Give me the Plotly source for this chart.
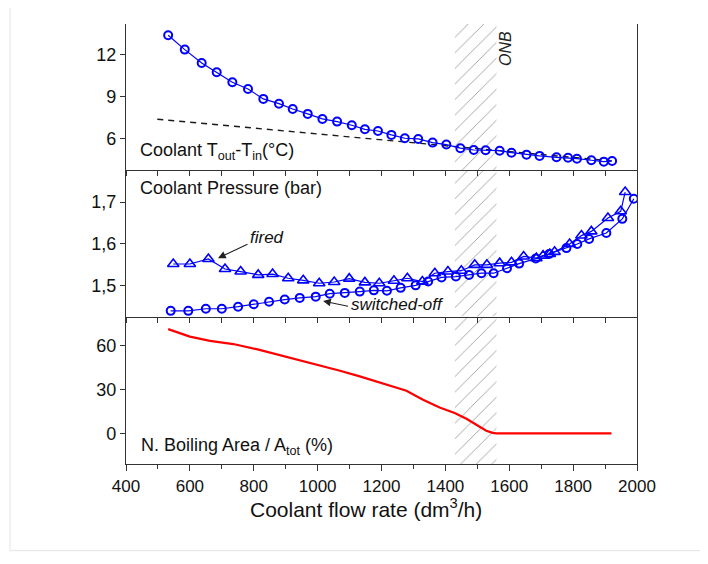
import plotly.graph_objects as go

# ---------------- data ----------------
# Top panel: coolant temperature rise
temp_flow = [532, 584, 637, 684, 733, 782, 830, 879, 922, 969, 1015, 1061, 1107, 1148, 1189, 1231,
             1273, 1315, 1360, 1403, 1447, 1489, 1526, 1570, 1607, 1654, 1695, 1748, 1784, 1812,
             1857, 1896, 1922]
temp_rise = [13.36, 12.33, 11.38, 10.71, 10.0, 9.52, 8.81, 8.47, 8.09, 7.74, 7.38, 7.19, 6.93, 6.64,
             6.52, 6.24, 6.0, 5.95, 5.69, 5.55, 5.29, 5.16, 5.14, 5.11, 4.97, 4.83, 4.74, 4.64, 4.61,
             4.54, 4.43, 4.33, 4.38]
ref_flow = [498, 1920]
ref_rise = [7.36, 4.38]

# Middle panel: coolant pressure
fired_flow = [548, 600, 658, 710, 759, 814, 859, 908, 955, 1005, 1052, 1099, 1148, 1193, 1239, 1281,
              1328, 1367, 1408, 1450, 1492, 1530, 1570, 1607, 1645, 1685, 1706, 1727, 1742, 1789,
              1826, 1857, 1909, 1949, 1963]
fired_p = [1.552, 1.552, 1.564, 1.540, 1.534, 1.526, 1.528, 1.518, 1.513, 1.506, 1.509, 1.517, 1.508,
           1.506, 1.512, 1.518, 1.510, 1.530, 1.534, 1.536, 1.550, 1.550, 1.554, 1.556, 1.570, 1.566,
           1.572, 1.576, 1.581, 1.600, 1.620, 1.630, 1.662, 1.678, 1.724]
off_flow = [540, 595, 650, 700, 751, 800, 848, 897, 944, 994, 1038, 1085, 1132, 1176, 1217, 1260,
            1307, 1346, 1388, 1433, 1474, 1513, 1551, 1593, 1631, 1683, 1725, 1779, 1813, 1850,
            1904, 1954, 1990]
off_p = [1.440, 1.440, 1.445, 1.445, 1.450, 1.456, 1.462, 1.467, 1.471, 1.474, 1.481, 1.483, 1.486,
         1.489, 1.488, 1.495, 1.501, 1.510, 1.520, 1.522, 1.526, 1.530, 1.530, 1.542, 1.553, 1.565,
         1.576, 1.590, 1.600, 1.612, 1.626, 1.660, 1.708]

# Bottom panel: nucleate boiling area fraction
boil_flow = [532, 600, 663, 736, 809, 871, 944, 1007, 1070, 1132, 1195, 1236, 1278, 1330, 1382,
             1429, 1466, 1497, 1528, 1548, 1560, 1920]
boil_pct = [71.4, 66.3, 63.4, 61.2, 57.7, 54.3, 50.0, 46.6, 43.0, 39.1, 35.0, 32.3, 29.3, 23.2,
            17.9, 14.1, 10.2, 6.1, 2.0, 0.6, 0.2, 0.2]

# ONB band
onb_band = [1430, 1560]

x_ticks = [400, 600, 800, 1000, 1200, 1400, 1600, 1800, 2000]
y3_range = [3.74, 14.16]
y2_range = [1.4265, 1.777]
y1_range = [-20.7, 80]

# ---------------- figure ----------------
BLUE = "#0000FF"
AX = "#333333"
FONT = "Liberation Sans, Arial, sans-serif"

fig = go.Figure()

def band(xa, ya, yr):
    fig.add_trace(go.Scatter(
        x=[onb_band[0], onb_band[1], onb_band[1], onb_band[0], onb_band[0]],
        y=[yr[0], yr[0], yr[1], yr[1], yr[0]],
        xaxis=xa, yaxis=ya, mode="lines", line=dict(width=0),
        fill="toself", fillcolor="rgba(255,255,255,0)",
        fillpattern=dict(shape="/", fgcolor="#3a3a3a", bgcolor="rgba(255,255,255,0)",
                         size=11, solidity=0.08),
        hoverinfo="skip", showlegend=False))

band("x3", "y3", y3_range)
band("x2", "y2", y2_range)
band("x", "y", y1_range)

# top
fig.add_trace(go.Scatter(x=ref_flow, y=ref_rise, xaxis="x3", yaxis="y3", mode="lines",
                         line=dict(color="#1a1a1a", width=1.4, dash="6px,5px"), showlegend=False))
fig.add_trace(go.Scatter(x=temp_flow, y=temp_rise, xaxis="x3", yaxis="y3", mode="lines+markers",
                         line=dict(color=BLUE, width=1.2),
                         marker=dict(symbol="circle-open", size=8, color=BLUE, line=dict(width=2, color=BLUE)),
                         showlegend=False))
# middle
fig.add_trace(go.Scatter(x=fired_flow, y=fired_p, xaxis="x2", yaxis="y2", mode="lines+markers",
                         line=dict(color=BLUE, width=1.2),
                         marker=dict(symbol="triangle-up-open", size=10, color=BLUE, line=dict(width=1.6, color=BLUE)),
                         showlegend=False))
fig.add_trace(go.Scatter(x=off_flow, y=off_p, xaxis="x2", yaxis="y2", mode="lines+markers",
                         line=dict(color=BLUE, width=1.2),
                         marker=dict(symbol="circle-open", size=8, color=BLUE, line=dict(width=2, color=BLUE)),
                         showlegend=False))
# bottom
fig.add_trace(go.Scatter(x=boil_flow, y=boil_pct, xaxis="x", yaxis="y", mode="lines",
                         line=dict(color="#FF0000", width=2.2),
                         showlegend=False))

d_bot = [0.0, 0.3352]
d_mid = [0.3352, 0.6684]
d_top = [0.6684, 1.0]

common_x = dict(range=[400, 2000], showline=True, linecolor=AX, linewidth=1.4, mirror=False,
                showgrid=False, zeroline=False)
common_y = dict(showline=True, linecolor=AX, linewidth=1.4, mirror=True, showgrid=False,
                zeroline=False, ticks="outside", ticklen=5, tickwidth=1.3, tickcolor=AX,
                tickfont=dict(size=18, color="#111", family=FONT))

fig.update_layout(
    width=708, height=564,
    margin=dict(l=118, r=79, t=16, b=108),
    paper_bgcolor="white", plot_bgcolor="white",
    separators=",.",
    font=dict(family=FONT, color="#111"),
    xaxis=dict(**common_x, anchor="y", tickvals=x_ticks, ticks="outside", ticklen=6, tickwidth=1.3,
               tickcolor=AX, tickfont=dict(size=17, color="#111", family=FONT),
               minor=dict(dtick=100, tick0=400, ticks="outside", ticklen=4, tickwidth=1.3, tickcolor=AX)),
    xaxis2=dict(**common_x, anchor="y2", matches="x", dtick=100, tick0=400, ticks="outside",
                ticklen=5, tickwidth=1.3, tickcolor=AX, showticklabels=False),
    xaxis3=dict(**common_x, anchor="y3", matches="x", dtick=100, tick0=400, ticks="outside",
                ticklen=5, tickwidth=1.3, tickcolor=AX, showticklabels=False),
    xaxis4=dict(range=[400, 2000], overlaying="x3", anchor="y3", side="top", dtick=100, tick0=400,
                ticks="inside", ticklen=5, tickwidth=1.3, tickcolor=AX, showticklabels=False,
                showgrid=False, zeroline=False, showline=True, linecolor=AX, linewidth=1.4),
    yaxis=dict(**common_y, domain=d_bot, range=y1_range, tickvals=[0, 30, 60]),
    yaxis2=dict(**common_y, domain=d_mid, range=y2_range, tickvals=[1.5, 1.6, 1.7], tickformat=".1f"),
    yaxis3=dict(**common_y, domain=d_top, range=y3_range, tickvals=[6, 9, 12]),
)

ann = []
ann.append(dict(x=438, y=5.04, xref="x3", yref="y3", xanchor="left", yanchor="middle",
                text="Coolant T<sub>out</sub>-T<sub>in</sub>(°C)", showarrow=False,
                font=dict(size=18, color="#111", family=FONT)))
ann.append(dict(x=438, y=1.734, xref="x2", yref="y2", xanchor="left", yanchor="middle",
                text="Coolant Pressure (bar)", showarrow=False,
                font=dict(size=18, color="#111", family=FONT)))
ann.append(dict(x=442, y=-8.7, xref="x", yref="y", xanchor="left", yanchor="middle",
                text="N. Boiling Area / A<sub>tot</sub> (%)", showarrow=False,
                font=dict(size=18, color="#111", family=FONT)))
ann.append(dict(x=1588, y=12.4, xref="x3", yref="y3", xanchor="center", yanchor="middle",
                text="<i>ONB</i>", textangle=-90, showarrow=False,
                font=dict(size=16, color="#222", family=FONT)))
ann.append(dict(x=840, y=1.6155, xref="x2", yref="y2", xanchor="center", yanchor="middle",
                text="<i>fired</i>", showarrow=False, font=dict(size=17, color="#111", family=FONT)))
ann.append(dict(x=688, y=1.566, xref="x2", yref="y2", ax=785, ay=1.601, axref="x2", ayref="y2",
                text="", showarrow=True, arrowhead=2, arrowsize=1.4, arrowwidth=1.1, arrowcolor="#222"))
ann.append(dict(x=1249, y=1.4545, xref="x2", yref="y2", xanchor="center", yanchor="middle",
                text="<i>switched-off</i>", showarrow=False, font=dict(size=17, color="#111", family=FONT)))
ann.append(dict(x=1017, y=1.4635, xref="x2", yref="y2", ax=1100, ay=1.4505, axref="x2", ayref="y2",
                text="", showarrow=True, arrowhead=2, arrowsize=1.4, arrowwidth=1.1, arrowcolor="#222"))
ann.append(dict(x=0.469, y=-0.1, xref="paper", yref="paper", xanchor="center", yanchor="middle",
                text="Coolant flow rate (dm<sup>3</sup>/h)", showarrow=False,
                font=dict(size=21, color="#111", family=FONT)))
fig.update_layout(annotations=ann)

# faint frame of the original figure canvas
fig.add_shape(type="line", xref="paper", yref="paper", x0=-0.227, x1=-0.227, y0=-0.197, y1=1.08,
              line=dict(color="#e4e4e4", width=1))
fig.add_shape(type="line", xref="paper", yref="paper", x0=-0.227, x1=1.16, y0=-0.197, y1=-0.197,
              line=dict(color="#e4e4e4", width=1))

fig.write_html("out.html")
